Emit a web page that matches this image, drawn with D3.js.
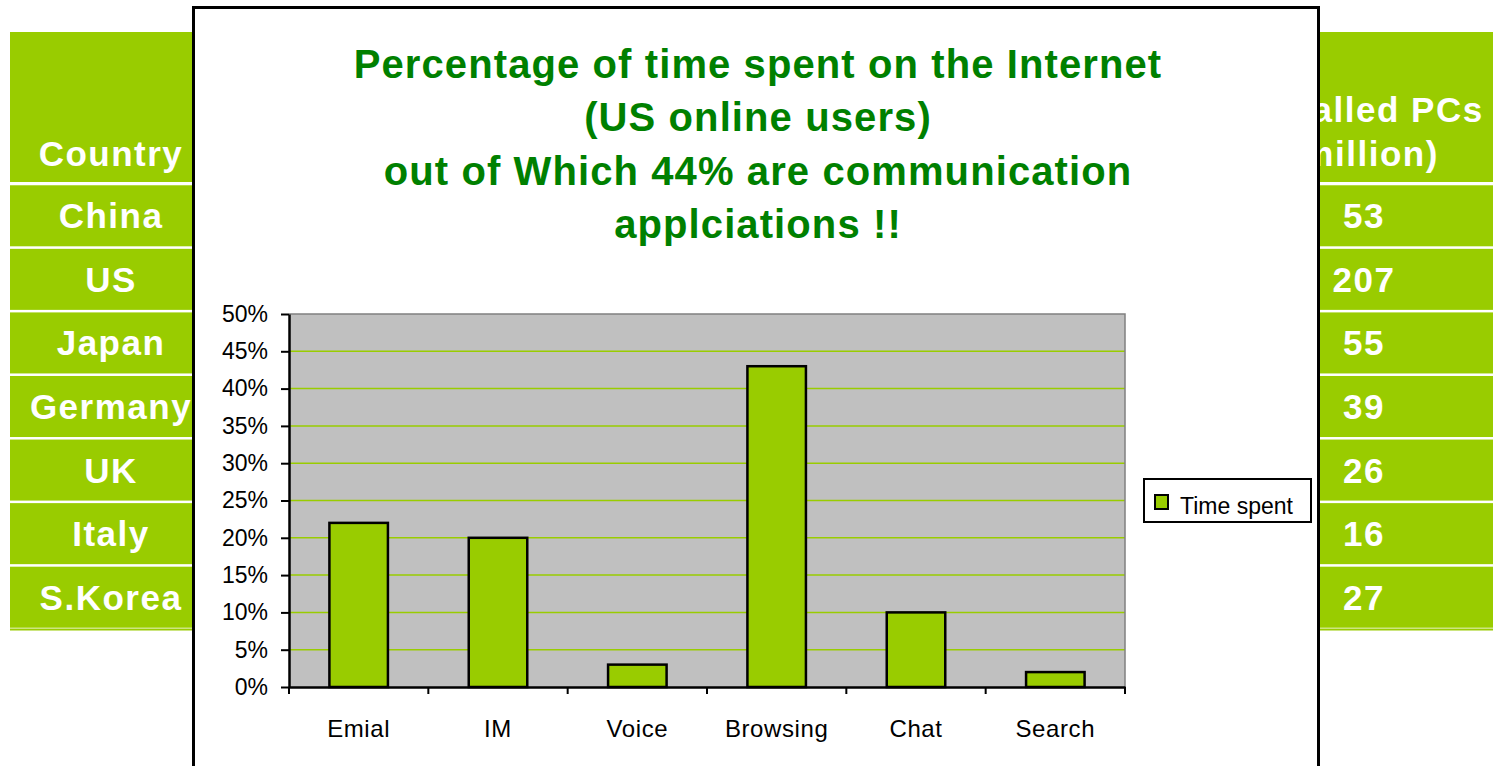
<!DOCTYPE html>
<html>
<head>
<meta charset="utf-8">
<script src="https://cdn.jsdelivr.net/npm/d3@7"></script>
<style>
  body { margin: 0; background: #fff; }
  svg { display: block; font-family: "Liberation Sans", Arial, sans-serif; }
</style>
</head>
<body>
<svg id="chart"></svg>
<script>
const width = 1493;
const height = 766;

// slide table behind the chart
const countries = ["China", "US", "Japan", "Germany", "UK", "Italy", "S.Korea"];
const installedPCs = [53, 207, 55, 39, 26, 16, 27];
const leftHeader = ["Country"];
const rightHeader = ["Installed PCs", "(million)"];

// chart data
const categories = ["Emial", "IM", "Voice", "Browsing", "Chat", "Search"];
const timeSpent = [22, 20, 3, 43, 10, 2]; // percent
const yTicks = [0, 5, 10, 15, 20, 25, 30, 35, 40, 45, 50];
const seriesName = "Time spent";
const titleLines = [
  "Percentage of time spent on the Internet",
  "(US online users)",
  "out of Which 44% are communication",
  "applciations !!"
];

const green = "#99cc00";
const titleGreen = "#008000";

const svg = d3.select("#chart")
  .attr("width", width)
  .attr("height", height)
  .attr("viewBox", [0, 0, width, height]);

// --- tables ---
const rowY = d3.scaleBand(countries, [184, 629]).paddingInner(0.04).paddingOuter(0.02);

const drawTable = (x0, x1, cx, header, values) => {
  const g = svg.append("g");
  g.append("rect")
    .attr("x", x0).attr("y", 32)
    .attr("width", x1 - x0).attr("height", 150)
    .attr("fill", green);
  g.selectAll("rect.row")
    .data(countries)
    .join("rect")
    .attr("class", "row")
    .attr("x", x0)
    .attr("y", (d) => rowY(d))
    .attr("width", x1 - x0)
    .attr("height", rowY.bandwidth())
    .attr("fill", green);
  g.append("rect")
    .attr("x", x0).attr("y", 628.5)
    .attr("width", x1 - x0).attr("height", 2)
    .attr("fill", green);

  const txt = g.append("g")
    .attr("fill", "#fff")
    .attr("font-weight", "bold")
    .attr("font-size", 35)
    .attr("letter-spacing", 1.5)
    .attr("text-anchor", "middle");
  txt.selectAll("text.head")
    .data(header)
    .join("text")
    .attr("class", "head")
    .attr("x", cx)
    .attr("y", (d, i) => 166 - (header.length - 1 - i) * 44)
    .text((d) => d);
  txt.selectAll("text.val")
    .data(values)
    .join("text")
    .attr("class", "val")
    .attr("x", cx)
    .attr("y", (d, i) => rowY(countries[i]) + rowY.bandwidth() / 2 + 12.5)
    .text((d) => d);
};

drawTable(10, 230, 111, leftHeader, countries);
drawTable(1260, width, 1364, rightHeader, installedPCs);

// --- chart frame ---
svg.append("rect")
  .attr("x", 193.5).attr("y", 7.5)
  .attr("width", 1125).attr("height", 820)
  .attr("fill", "#fff")
  .attr("stroke", "#000")
  .attr("stroke-width", 3);

svg.append("g")
  .attr("fill", titleGreen)
  .attr("font-weight", "bold")
  .attr("font-size", 40)
  .attr("letter-spacing", 1.1)
  .attr("text-anchor", "middle")
  .selectAll("text")
  .data(titleLines)
  .join("text")
  .attr("x", 758)
  .attr("y", (d, i) => 78 + i * 53.3)
  .text((d) => d);

// --- plot ---
const marginLeft = 289, marginRight = 1125, marginTop = 314, marginBottom = 687;
const xScale = d3.scaleBand(categories, [marginLeft, marginRight]);
const yScale = d3.scaleLinear([0, 50], [marginBottom, marginTop]);
const barWidth = xScale.bandwidth() * 0.42;

svg.append("rect")
  .attr("x", marginLeft).attr("y", marginTop)
  .attr("width", marginRight - marginLeft)
  .attr("height", marginBottom - marginTop)
  .attr("fill", "#c0c0c0");

// gridlines
svg.append("g")
  .attr("stroke", green)
  .attr("stroke-width", 1.5)
  .selectAll("line")
  .data(yTicks.filter((t) => t > 0 && t < 50))
  .join("line")
  .attr("x1", marginLeft).attr("x2", marginRight)
  .attr("y1", (d) => yScale(d)).attr("y2", (d) => yScale(d));

// plot border top/right
svg.append("path")
  .attr("d", `M${marginLeft},${marginTop}H${marginRight}V${marginBottom}`)
  .attr("fill", "none")
  .attr("stroke", "#808080")
  .attr("stroke-width", 1.5);

// bars
svg.append("g")
  .attr("fill", green)
  .attr("stroke", "#000")
  .attr("stroke-width", 2.5)
  .selectAll("rect")
  .data(timeSpent)
  .join("rect")
  .attr("x", (d, i) => xScale(categories[i]) + (xScale.bandwidth() - barWidth) / 2)
  .attr("y", (d) => yScale(d))
  .attr("width", barWidth)
  .attr("height", (d) => yScale(0) - yScale(d));

// y axis
const yAxis = d3.axisLeft(yScale)
  .tickValues(yTicks)
  .tickFormat((d) => d + "%")
  .tickSizeOuter(0)
  .tickSizeInner(8)
  .tickPadding(13);

svg.append("g")
  .attr("transform", `translate(${marginLeft},0)`)
  .call(yAxis)
  .call((g) => g.select(".domain").attr("stroke-width", 2.5))
  .call((g) => g.selectAll(".tick line").attr("stroke-width", 2))
  .call((g) => g.selectAll(".tick text")
    .attr("font-size", 23)
    .attr("font-family", "Liberation Sans, Arial, sans-serif")
    .attr("fill", "#000"));

// x axis: ticks at category boundaries
const xAxis = d3.axisBottom(xScale).tickSize(0).tickPadding(33);
svg.append("g")
  .attr("transform", `translate(0,${marginBottom})`)
  .call(xAxis)
  .call((g) => g.select(".domain").attr("stroke-width", 2.5))
  .call((g) => g.selectAll(".tick text")
    .attr("font-size", 24)
    .attr("letter-spacing", 0.6)
    .attr("font-family", "Liberation Sans, Arial, sans-serif")
    .attr("fill", "#000"))
  .call((g) => g.selectAll("line.bound")
    .data(d3.range(categories.length + 1))
    .join("line")
    .attr("class", "bound")
    .attr("x1", (i) => marginLeft + i * xScale.step())
    .attr("x2", (i) => marginLeft + i * xScale.step())
    .attr("y1", 0).attr("y2", 7)
    .attr("stroke", "#000")
    .attr("stroke-width", 2));

// legend
const legend = svg.append("g").attr("transform", "translate(1144,479)");
legend.append("rect")
  .attr("width", 167).attr("height", 43)
  .attr("fill", "#fff")
  .attr("stroke", "#000")
  .attr("stroke-width", 2);
legend.append("rect")
  .attr("x", 11).attr("y", 16)
  .attr("width", 13).attr("height", 14)
  .attr("fill", green)
  .attr("stroke", "#000")
  .attr("stroke-width", 2);
legend.append("text")
  .attr("x", 36).attr("y", 35)
  .attr("font-size", 23)
  .attr("fill", "#000")
  .text(seriesName);
</script>
</body>
</html>
